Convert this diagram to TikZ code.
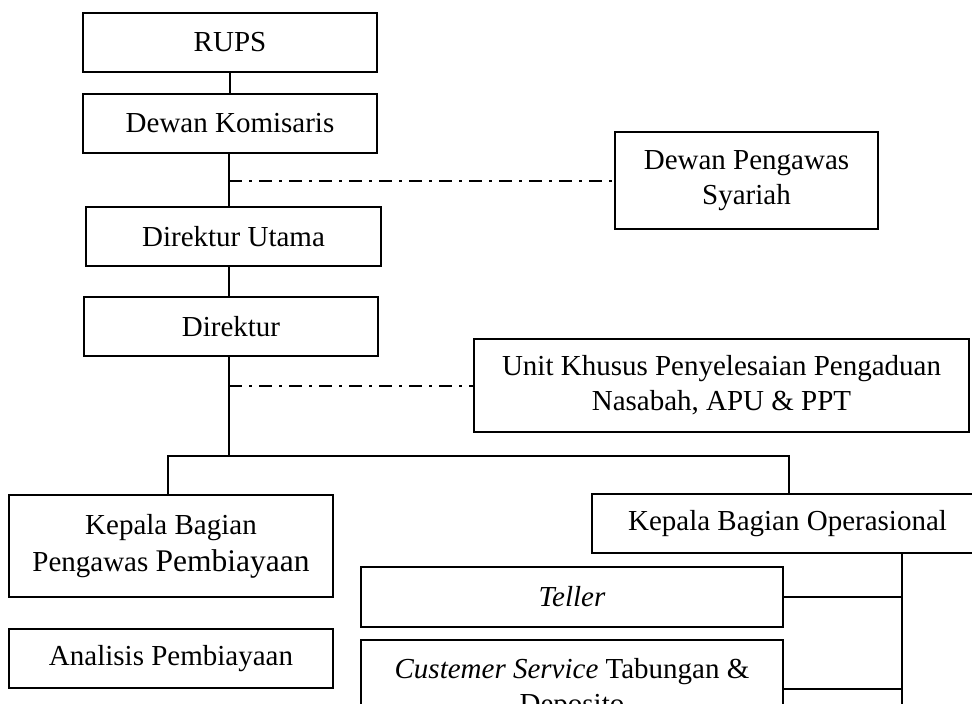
\documentclass[tikz,border=0pt]{standalone}
\usepackage{fontspec}
\setmainfont{Liberation Serif}
\begin{document}
\begin{tikzpicture}[x=1pt,y=-1pt,
  box/.style={draw, line width=2pt, inner sep=0pt, align=center,
    font=\fontsize{29}{35}\selectfont},
  conn/.style={line width=2pt},
  dashdot/.style={line width=2pt, dash pattern=on 13pt off 7pt on 2.5pt off 7.5pt}]
\useasboundingbox (0,0) rectangle (972,704);
\clip (0,0) rectangle (972,704);
\node[box, minimum width=294pt, minimum height=59pt] (rups) at (230,42.5) {RUPS};
\node[box, minimum width=294pt, minimum height=59pt] (dk) at (230,123.5) {Dewan Komisaris};
\node[box, minimum width=263pt, minimum height=97pt] (dps) at (746.5,180.5) {Dewan Pengawas\\Syariah};
\node[box, minimum width=295pt, minimum height=59pt] (du) at (233.5,236.5) {Direktur Utama};
\node[box, minimum width=294pt, minimum height=59pt] (dir) at (231,326.5) {Direktur};
\node[box, minimum width=495pt, minimum height=93pt] (uk) at (721.5,385.5) {Unit Khusus Penyelesaian Pengaduan\\Nasabah, APU \& PPT};
\node[box, minimum width=324pt, minimum height=102pt] (kbp) at (171,546) {Kepala Bagian\\[2pt]Pengawas {\fontsize{31.5}{35}\selectfont Pembiayaan}};
\node[box, minimum width=324pt, minimum height=59pt] (ap) at (171,658.5) {Analisis Pembiayaan};
\node[box, minimum width=391pt, minimum height=59pt] (kbo) at (787.5,523.5) {Kepala Bagian Operasional};
\node[box, minimum width=422pt, minimum height=60pt] (tel) at (572,597) {\textit{Teller}};
\node[box, minimum width=422pt, minimum height=98pt] (cs) at (572,689) {\textit{Custemer Service} Tabungan \&\\Deposito};
% connectors
\coordinate (bar) at (229,456);
\coordinate (vbot) at (902,720);
\draw[conn] (rups.south) -- (dk.north);
\draw[conn] (dk.south -| bar) -- (du.north -| bar);
\draw[dashdot] (dps.west -| bar) -- (dps.west);
\draw[conn] (du.south -| bar) -- (dir.north -| bar);
\draw[conn] (dir.south -| bar) -- (bar);
\draw[dashdot] (uk.west -| bar) -- (uk.west);
\draw[conn] (kbp.north -| 168,0) |- (bar) -| (kbo.north -| 789,0);
\draw[conn] (kbo.south -| vbot) -- (vbot);
\draw[conn] (tel.east) -- (tel.east -| vbot);
\draw[conn] (cs.east) -- (cs.east -| vbot);
\end{tikzpicture}
\end{document}
